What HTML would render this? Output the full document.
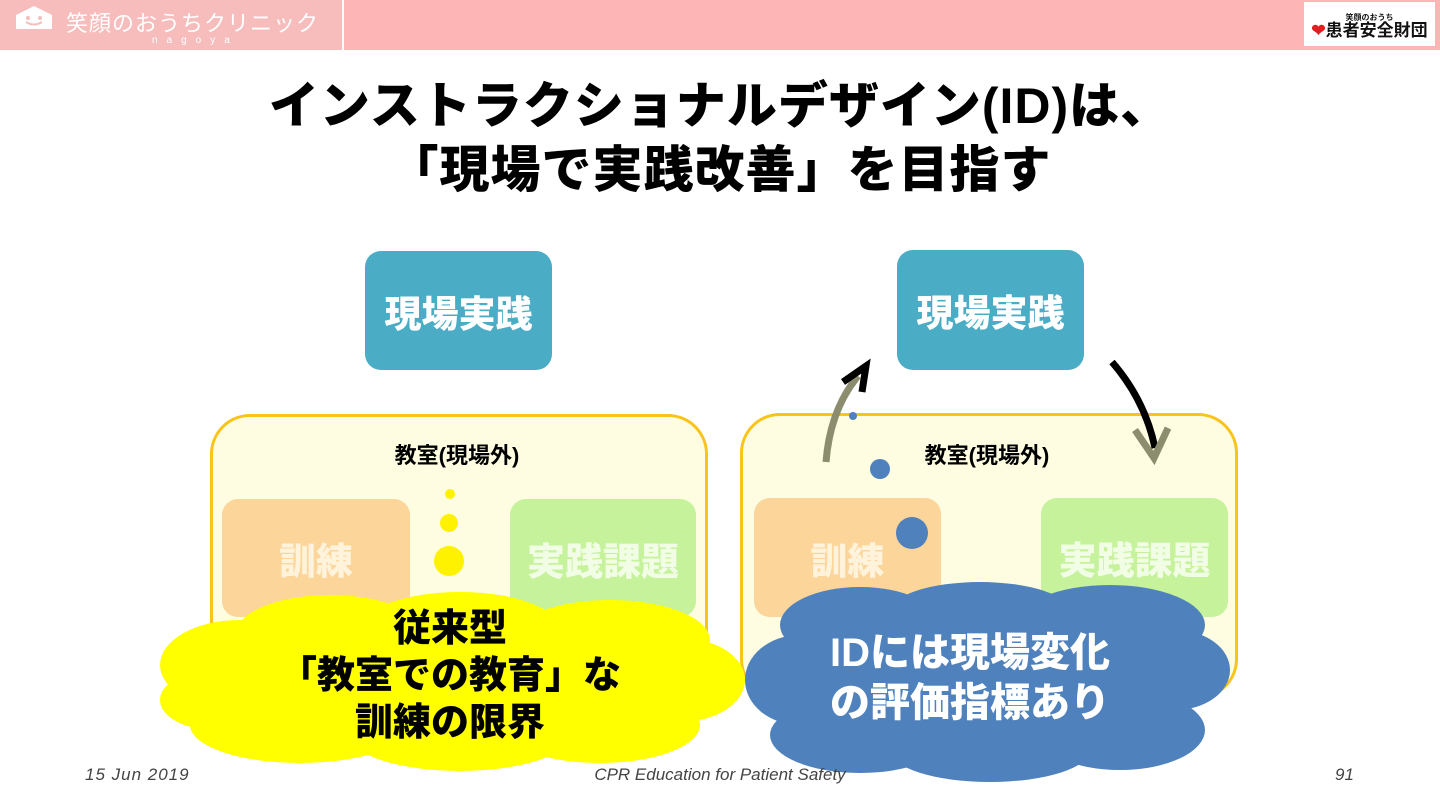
<!DOCTYPE html>
<html><head><meta charset="utf-8"><style>
body{margin:0;width:1440px;height:810px;background:#fff;overflow:hidden;position:relative;font-family:"Liberation Sans","Noto Sans CJK JP",sans-serif}
.a{position:absolute}
.t{font-weight:900;color:#000;text-align:center;width:1440px;left:0;font-size:50px;letter-spacing:1px}
.box{position:absolute;display:flex;align-items:center;justify-content:center;font-weight:900;border-radius:16px}
</style></head><body>
<div class="a" style="left:0;top:0;width:1440px;height:50px;background:#fdb5b5"></div>
<div class="a" style="left:0;top:0;width:342px;height:50px;background:#f7bdbd"></div>
<div class="a" style="left:342px;top:0;width:2px;height:50px;background:#fff"></div>
<svg class="a" style="left:14px;top:5px" width="40" height="25"><path d="M2 10 L20 1 L38 10 L38 24 L2 24Z" fill="#fff"/><circle cx="14" cy="13" r="2" fill="#f7bdbd"/><circle cx="26" cy="13" r="2" fill="#f7bdbd"/><path d="M12 17 Q20 22 28 17" stroke="#f7bdbd" stroke-width="2" fill="none"/></svg>
<div class="a" style="left:66px;top:6px;color:#fff;font-size:22px;letter-spacing:1px">笑顔のおうちクリニック</div>
<div class="a" style="left:152px;top:35px;color:#fff;font-size:10px;letter-spacing:9px">nagoya</div>
<div class="a" style="left:1304px;top:2px;width:131px;height:44px;background:#fff;font-size:17px;font-weight:bold;color:#111;text-align:center;line-height:1"><div style="font-size:8px;margin-top:12px">笑顔のおうち</div><span style="color:#e02020">❤</span>患者安全財団</div>
<div class="a t" style="top:66px">インストラクショナルデザイン(ID)は、</div>
<div class="a t" style="top:130px">「現場で実践改善」を目指す</div>

<div class="box" style="left:365px;top:251px;width:187px;height:119px;background:#4bacc6;color:#fff;font-size:37px">現場実践</div>
<div class="box" style="left:897px;top:250px;width:187px;height:120px;background:#4bacc6;color:#fff;font-size:37px">現場実践</div>

<div class="a" style="left:210px;top:414px;width:492px;height:280px;border:3px solid #f8c41a;border-radius:40px;background:#fefde1"></div>
<div class="a" style="left:740px;top:413px;width:492px;height:280px;border:3px solid #f8c41a;border-radius:40px;background:#fefde1"></div>
<div class="a" style="left:350px;top:438px;width:214px;text-align:center;font-size:22px;font-weight:bold">教室(現場外)</div>
<div class="a" style="left:880px;top:438px;width:214px;text-align:center;font-size:22px;font-weight:bold">教室(現場外)</div>

<div class="box" style="left:222px;top:499px;width:188px;height:118px;background:#fcd59a;color:#fff3dc;font-size:37px">訓練</div>
<div class="box" style="left:510px;top:499px;width:186px;height:118px;background:#c6f29c;color:#f2fde6;font-size:38px">実践課題</div>
<div class="box" style="left:754px;top:498px;width:187px;height:119px;background:#fcd59a;color:#fff3dc;font-size:37px">訓練</div>
<div class="box" style="left:1041px;top:498px;width:187px;height:119px;background:#c6f29c;color:#f2fde6;font-size:38px">実践課題</div>

<svg class="a" style="left:0;top:0" width="1440" height="810">
<circle cx="450" cy="494" r="5" fill="#fff200"/><circle cx="449" cy="523" r="9" fill="#fff200"/><circle cx="449" cy="561" r="15" fill="#fff200"/>
<circle cx="853" cy="416" r="4" fill="#4f81bd"/><circle cx="880" cy="469" r="10" fill="#4f81bd"/><circle cx="912" cy="533" r="16" fill="#4f81bd"/>
<path d="M826 462 Q830 410 858 376" stroke="#8c8c6e" stroke-width="7" fill="none"/>
<path d="M843 382 L866 366 L862 392" stroke="#000" stroke-width="7" fill="none"/>
<path d="M1112 362 Q1145 400 1155 448" stroke="#000" stroke-width="7" fill="none"/>
<path d="M1135 430 L1154 458 L1168 428" stroke="#8c8c6e" stroke-width="7" fill="none"/>
<g fill="#ffff00">
<ellipse cx="240" cy="665" rx="80" ry="45"/><ellipse cx="330" cy="635" rx="95" ry="40"/><ellipse cx="460" cy="630" rx="100" ry="38"/><ellipse cx="610" cy="640" rx="100" ry="40"/><ellipse cx="680" cy="680" rx="65" ry="42"/><ellipse cx="600" cy="725" rx="100" ry="38"/><ellipse cx="460" cy="735" rx="110" ry="36"/><ellipse cx="300" cy="725" rx="110" ry="38"/><ellipse cx="215" cy="700" rx="55" ry="30"/><ellipse cx="450" cy="685" rx="230" ry="55"/>
</g>
<g fill="#4f81bd">
<ellipse cx="800" cy="680" rx="55" ry="45"/><ellipse cx="860" cy="625" rx="80" ry="38"/><ellipse cx="980" cy="612" rx="90" ry="30"/><ellipse cx="1110" cy="625" rx="95" ry="40"/><ellipse cx="1175" cy="670" rx="55" ry="40"/><ellipse cx="1120" cy="730" rx="85" ry="40"/><ellipse cx="990" cy="750" rx="100" ry="32"/><ellipse cx="860" cy="735" rx="90" ry="38"/><ellipse cx="985" cy="680" rx="200" ry="65"/>
</g>
</svg>
<div class="a" style="left:210px;top:606px;width:480px;text-align:center;font-size:38px;font-weight:900;line-height:47px">従来型<br>「教室での教育」な<br>訓練の限界</div>
<div class="a" style="left:770px;top:628px;width:400px;text-align:center;font-size:40px;font-weight:900;line-height:50px;color:#fff">IDには現場変化<br>の評価指標あり</div>
<div class="a" style="left:85px;top:765px;font-size:17px;font-style:italic;color:#444;letter-spacing:1px">15 Jun 2019</div>
<div class="a" style="left:0;width:1440px;text-align:center;top:765px;font-size:17px;font-style:italic;color:#444">CPR Education for Patient Safety</div>
<div class="a" style="left:1335px;top:765px;font-size:17px;font-style:italic;color:#444">91</div>
</body></html>
